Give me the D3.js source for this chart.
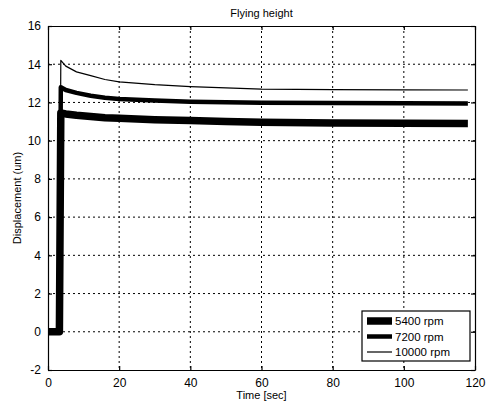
<!doctype html>
<html>
<head>
  <meta charset="utf-8">
  <script src="https://cdnjs.cloudflare.com/ajax/libs/d3/7.8.5/d3.min.js"></script>
  <style>
    body { margin: 0; background: #fff; }
    svg { font-family: "Liberation Sans", Arial, sans-serif; }
  </style>
</head>
<body>
  <svg id="chart" width="490" height="408"></svg>
<script>
  // time samples (sec) and displacement (um) for each spindle speed
  var times = [0, 3.2, 3.6, 5, 8, 12, 16, 20, 30, 40, 50, 60, 80, 100, 118];
  var rpm5400 = [0, 0, 11.45, 11.4, 11.33, 11.26, 11.2, 11.17, 11.1, 11.05, 11.0, 10.96, 10.93, 10.91, 10.9];
  var rpm7200 = [0, 0, 12.8, 12.65, 12.5, 12.35, 12.25, 12.18, 12.1, 12.04, 12.01, 11.99, 11.97, 11.96, 11.95];
  var rpm10000 = [0, 0, 14.2, 13.9, 13.6, 13.4, 13.2, 13.08, 12.93, 12.83, 12.76, 12.7, 12.67, 12.66, 12.65];
  var seriesNames = ["5400 rpm", "7200 rpm", "10000 rpm"];
  var xTicks = [0, 20, 40, 60, 80, 100, 120];
  var yTicks = [-2, 0, 2, 4, 6, 8, 10, 12, 14, 16];

  var widths = [7.5, 4.5, 1.2];
  var series = [rpm5400, rpm7200, rpm10000];

  var margin = {left: 48, right: 15, top: 26, bottom: 38};
  var W = 490, H = 408;
  var svg = d3.select("#chart");
  var g = svg.append("g").attr("transform", "translate(" + margin.left + "," + margin.top + ")");
  var w = W - margin.left - margin.right, h = H - margin.top - margin.bottom;

  var x = d3.scaleLinear().domain([0, 120]).range([0, w]);
  var y = d3.scaleLinear().domain([-2, 16]).range([h, 0]);

  // dotted grid
  g.selectAll(".gx").data(xTicks.slice(1, -1)).enter().append("line")
    .attr("x1", d => x(d)).attr("x2", d => x(d)).attr("y1", 0).attr("y2", h)
    .attr("stroke", "#000").attr("stroke-width", 1).attr("stroke-dasharray", "2,3");
  g.selectAll(".gy").data(yTicks.slice(1, -1)).enter().append("line")
    .attr("y1", d => y(d)).attr("y2", d => y(d)).attr("x1", 0).attr("x2", w)
    .attr("stroke", "#000").attr("stroke-width", 1).attr("stroke-dasharray", "2,3");

  // lines
  var line = d3.line().x(d => x(d[0])).y(d => y(d[1]));
  series.forEach(function(s, i) {
    g.append("path")
      .datum(times.map((t, j) => [t, s[j]]))
      .attr("d", line)
      .attr("fill", "none")
      .attr("stroke", "#000")
      .attr("stroke-width", widths[i])
      .attr("stroke-linejoin", "round");
  });

  // axes with inward ticks, MATLAB style box
  var fmt = d => String(d);
  var ax = d3.axisBottom(x).tickValues(xTicks).tickFormat(fmt).tickSizeInner(-4).tickSizeOuter(0).tickPadding(8);
  var ay = d3.axisLeft(y).tickValues(yTicks).tickFormat(fmt).tickSizeInner(-4).tickSizeOuter(0).tickPadding(7);
  g.append("g").attr("transform", "translate(0," + h + ")").call(ax);
  g.append("g").call(ay);
  g.append("g").call(d3.axisTop(x).tickValues(xTicks).tickSizeInner(-4).tickSizeOuter(0).tickFormat(""));
  g.append("g").attr("transform", "translate(" + w + ",0)")
    .call(d3.axisRight(y).tickValues(yTicks).tickSizeInner(-4).tickSizeOuter(0).tickFormat(""));
  g.selectAll(".domain, .tick line").attr("stroke", "#000").attr("stroke-width", 1.2);
  g.selectAll(".tick text").attr("fill", "#000").style("font-size", "12px");

  // titles
  svg.append("text").attr("x", margin.left + w / 2).attr("y", 17).attr("text-anchor", "middle")
    .style("font-size", "11px").text("Flying height");
  svg.append("text").attr("x", margin.left + w / 2).attr("y", 399).attr("text-anchor", "middle")
    .style("font-size", "11px").text("Time [sec]");
  svg.append("text").attr("transform", "translate(21," + (margin.top + h / 2) + ") rotate(-90)")
    .attr("text-anchor", "middle").style("font-size", "11px").text("Displacement (um)");

  // legend
  var lg = svg.append("g").attr("transform", "translate(362,311)");
  lg.append("rect").attr("width", 108).attr("height", 50).attr("fill", "#fff")
    .attr("stroke", "#000").attr("stroke-width", 1.2);
  seriesNames.forEach(function(n, i) {
    var yy = 10 + i * 15.5;
    lg.append("line").attr("x1", 5).attr("x2", 30).attr("y1", yy).attr("y2", yy)
      .attr("stroke", "#000").attr("stroke-width", widths[i]);
    lg.append("text").attr("x", 33).attr("y", yy + 4).style("font-size", "11.5px").text(n);
  });
</script>
</body>
</html>
